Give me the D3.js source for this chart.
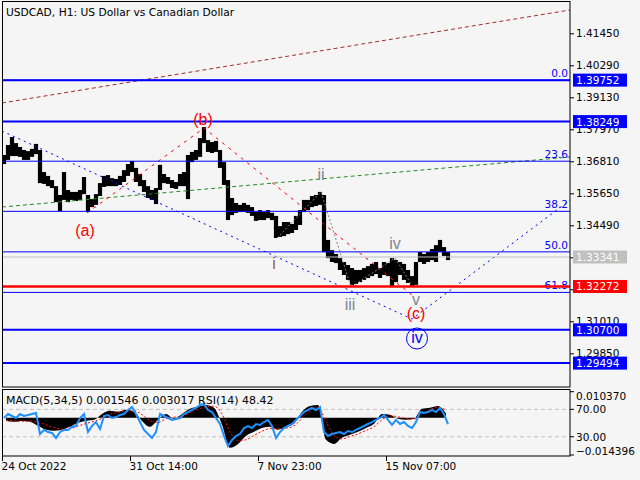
<!DOCTYPE html>
<html><head><meta charset="utf-8">
<script src="https://cdn.jsdelivr.net/npm/d3@7"></script>
<style>body{margin:0;background:#f5f5f5;} svg{display:block;}</style>
</head><body>
<svg id="c" width="640" height="480"></svg>
<script>
// ---------- DATA ----------
const titleText = "USDCAD, H1:  US Dollar vs Canadian Dollar";
const subTitle = "MACD(5,34,5) 0.001546 0.003017 RSI(14) 48.42";
const timeTickBars = [0, 128, 256, 384];
const timeLabels = ["24 Oct 2022", "31 Oct 14:00", "7 Nov 23:00", "15 Nov 07:00"];
const priceTicks = [1.41450, 1.40290, 1.39130, 1.37970, 1.36810, 1.35650, 1.34490, 1.33330, 1.32170, 1.31010, 1.29850];
// price high/low per group of 4 hourly bars
const highs = [1.3704,1.3740,1.3769,1.3747,1.3733,1.3722,1.3718,1.3726,1.3744,1.3722,
 1.3642,1.3628,1.3613,1.3591,1.3559,1.3642,1.3577,1.3570,1.3570,1.3577,
 1.3624,1.3559,1.3544,1.3562,1.3602,1.3628,1.3631,1.3620,1.3617,1.3628,
 1.3649,1.3671,1.3682,1.3657,1.3635,1.3613,1.3591,1.3577,1.3584,1.3668,
 1.3635,1.3624,1.3613,1.3606,1.3635,1.3642,1.3704,1.3715,1.3722,1.3765,
 1.3805,1.3758,1.3751,1.3755,1.3722,1.3678,1.3613,1.3548,1.3530,1.3523,
 1.3530,1.3523,1.3515,1.3497,1.3504,1.3497,1.3504,1.3494,1.3483,1.3446,
 1.3461,1.3461,1.3454,1.3483,1.3504,1.3541,1.3541,1.3555,1.3559,1.3570,
 1.3559,1.3396,1.3359,1.3345,1.3330,1.3316,1.3305,1.3294,1.3287,1.3287,
 1.3294,1.3301,1.3309,1.3316,1.3294,1.3316,1.3312,1.3330,1.3323,1.3316,
 1.3309,1.3287,1.3265,1.3316,1.3352,1.3345,1.3352,1.3363,1.3377,1.3396,
 1.3370,1.3352];
const lows = [1.3671,1.3686,1.3700,1.3700,1.3697,1.3686,1.3686,1.3697,1.3707,1.3602,
 1.3599,1.3591,1.3584,1.3533,1.3501,1.3541,1.3533,1.3541,1.3537,1.3541,
 1.3562,1.3497,1.3515,1.3523,1.3555,1.3588,1.3591,1.3591,1.3591,1.3595,
 1.3606,1.3628,1.3642,1.3606,1.3591,1.3570,1.3548,1.3541,1.3526,1.3577,
 1.3602,1.3599,1.3584,1.3581,1.3591,1.3591,1.3544,1.3678,1.3686,1.3697,
 1.3747,1.3715,1.3711,1.3715,1.3657,1.3595,1.3468,1.3486,1.3494,1.3497,
 1.3497,1.3494,1.3483,1.3465,1.3468,1.3468,1.3475,1.3468,1.3403,1.3407,
 1.3410,1.3417,1.3421,1.3432,1.3450,1.3497,1.3504,1.3515,1.3519,1.3523,
 1.3352,1.3330,1.3316,1.3312,1.3287,1.3269,1.3251,1.3233,1.3236,1.3243,
 1.3251,1.3258,1.3265,1.3272,1.3258,1.3269,1.3265,1.3225,1.3243,1.3269,
 1.3251,1.3240,1.3229,1.3233,1.3316,1.3309,1.3316,1.3323,1.3316,1.3352,
 1.3338,1.3323];
// RSI(14) per group of 4 bars
const rsi = [57.4,63.2,60.3,57.4,63.2,60.3,61.8,63.2,64.7,34.0,
 39.9,36.9,35.5,28.2,36.9,39.9,39.9,44.2,45.7,57.4,
 63.2,36.9,45.7,51.5,41.3,60.3,61.8,57.4,58.8,61.8,
 63.2,69.1,73.4,63.2,51.5,39.9,34.0,28.2,36.9,63.2,
 60.3,57.4,54.5,55.9,57.4,63.2,66.1,69.1,72.0,76.4,
 77.8,69.1,66.1,57.4,48.6,31.1,16.5,25.3,31.1,34.0,
 42.8,45.7,42.8,48.6,47.2,51.5,54.5,45.7,28.2,36.9,
 42.8,45.7,48.6,54.5,60.3,66.1,69.1,72.0,69.1,73.4,
 36.9,31.1,34.0,35.5,36.9,34.0,38.4,36.9,39.9,42.8,
 45.7,48.6,51.5,54.5,57.4,61.8,54.5,47.2,54.5,48.6,
 51.5,45.7,42.8,51.5,66.1,64.7,66.1,69.1,66.1,72.0,
 63.2,48.42];
// MACD main (histogram) and signal per group of 8 bars
const macdMain = [-0.0012,-0.0015,-0.0012,-0.0015,-0.0031,-0.0046,-0.0050,-0.0046,-0.0035,-0.0019,
 -0.0012,-0.0008,0.0015,0.0027,0.0023,0.0031,0.0023,-0.0012,-0.0035,-0.0008,
 0.0015,-0.0004,0.0015,0.0035,0.0043,0.0050,0.0039,-0.0027,-0.0116,-0.0101,
 -0.0070,-0.0054,-0.0039,-0.0035,-0.0046,-0.0035,-0.0023,0.0023,0.0046,0.0050,
 -0.0085,-0.0101,-0.0077,-0.0066,-0.0054,-0.0039,-0.0023,0.0015,0.0012,-0.0004,
 -0.0008,-0.0004,0.0035,0.0039,0.0046,0.0017];
const macdSignal = [-0.0010,-0.0012,-0.0013,-0.0013,-0.0018,-0.0027,-0.0038,-0.0044,-0.0042,-0.0032,
 -0.0022,-0.0014,-0.0002,0.0013,0.0021,0.0026,0.0027,0.0012,-0.0012,-0.0018,
 -0.0004,0.0002,0.0006,0.0020,0.0033,0.0043,0.0045,0.0015,-0.0055,-0.0088,
 -0.0085,-0.0068,-0.0052,-0.0042,-0.0042,-0.0040,-0.0031,-0.0002,0.0028,0.0043,
 -0.0015,-0.0068,-0.0082,-0.0072,-0.0062,-0.0049,-0.0034,-0.0008,0.0008,0.0004,
 -0.0003,-0.0005,0.0015,0.0032,0.0040,0.0030];
// horizontal levels
const blueLevels = [1.39752, 1.38249, 1.30700, 1.29494];
const redLevel = 1.32272;
const bidLevel = 1.33341;
const fib0 = 1.39752, fib100 = 1.27302;
const fibLevels = [0, 23.6, 38.2, 50, 61.8];
const fibLabels = ["0.0", "23.6", "38.2", "50.0", "61.8"];
// trend lines (bar index, price)
const brownBars = [0, 568], brownPrices = [1.38923, 1.42295];
const greenBars = [0, 568], greenPrices = [1.35153, 1.36966];
const blueDotBars = [0, 410, 568], blueDotPrices = [1.37908, 1.31093, 1.35407];
const redWaveBars = [85, 202, 410], redWavePrices = [1.34936, 1.38017, 1.31963];
const grayWaveBars = [275, 319, 349, 393, 411], grayWavePrices = [1.34029, 1.35697, 1.32253, 1.33304, 1.32253];
// wave labels
const waveText = ["(a)", "(b)", "(c)", "i", "ii", "iii", "iv", "v", "iv"];
const waveBars = [83, 201, 414, 272, 319, 348, 393, 414, 415];
const wavePrices = [1.34319, 1.38343, 1.31275, 1.33123, 1.36349, 1.31637, 1.33848, 1.31818, 1.30405];
const waveKind = ["major", "major", "major", "minorI", "minor", "minor", "minor", "minor", "circle"];
const macdTop = 0.010370, macdBottom = -0.014396;
const rsiLevels = [70, 30];

// ---------- DRAW ----------
const svg = d3.select("#c");
const FONT = "DejaVu Sans, sans-serif";
const AX = 10.5;
svg.append("rect").attr("width", 640).attr("height", 480).attr("fill", "#f5f5f5");

const x = d3.scaleLinear().domain([0, 568]).range([2, 570]);
const y = d3.scaleLinear().domain([1.29850, 1.41450]).range([353.3, 33.3]);
const my = d3.scaleLinear().domain([macdBottom, macdTop]).range([455, 391]);
const ry = d3.scaleLinear().domain([0, 100]).range([457.3, 388.8]);

const main = svg.append("g");
main.append("defs").append("clipPath").attr("id", "clipMain")
  .append("rect").attr("x", 2).attr("y", 2).attr("width", 568).attr("height", 385);
const plot = main.append("g").attr("clip-path", "url(#clipMain)");

// price bars
plot.selectAll("rect.bar").data(highs).enter().append("rect")
  .attr("x", (d, i) => x(i * 4) - 0.1)
  .attr("width", x(4) - x(0) + 0.2)
  .attr("y", d => y(d))
  .attr("height", (d, i) => Math.max(1, y(lows[i]) - y(d)))
  .attr("fill", "#000");

const line = d3.line();
function drawPoly(bars, prices, color, dash, w) {
  plot.append("path")
    .attr("d", line(bars.map((b, i) => [x(b), y(prices[i])])))
    .attr("fill", "none").attr("stroke", color).attr("stroke-width", w || 1)
    .attr("stroke-dasharray", dash);
}
drawPoly(brownBars, brownPrices, "#a52a2a", "4,3");
drawPoly(greenBars, greenPrices, "#228b22", "4,3");
drawPoly(blueDotBars, blueDotPrices, "#0000ff", "2,4");
drawPoly(redWaveBars, redWavePrices, "#ff0000", "3,5");
drawPoly(grayWaveBars, grayWavePrices, "#808080", "2,2");

// fib lines
fibLevels.forEach((lv, i) => {
  const p = fib0 - lv / 100 * (fib0 - fib100);
  plot.append("line").attr("x1", 2).attr("x2", 570).attr("y1", y(p)).attr("y2", y(p))
    .attr("stroke", "#0000ff").attr("stroke-width", 1);
  plot.append("text").attr("x", 568).attr("y", y(p) - 3).attr("text-anchor", "end")
    .attr("font-family", FONT).attr("font-size", AX).attr("fill", "#0000ff").text(fibLabels[i]);
});
// bid line
plot.append("line").attr("x1", 2).attr("x2", 570).attr("y1", y(bidLevel)).attr("y2", y(bidLevel))
  .attr("stroke", "#c0c0c0").attr("stroke-width", 1);
// blue levels
blueLevels.forEach(p => {
  plot.append("line").attr("x1", 2).attr("x2", 570).attr("y1", y(p)).attr("y2", y(p))
    .attr("stroke", "#0000ff").attr("stroke-width", 2);
});
plot.append("line").attr("x1", 2).attr("x2", 570).attr("y1", y(redLevel)).attr("y2", y(redLevel))
  .attr("stroke", "#ff0000").attr("stroke-width", 2.5);

// wave labels
waveText.forEach((t, i) => {
  const cx = x(waveBars[i]), cy = y(wavePrices[i]);
  const col = waveKind[i] === "major" ? "#ff0000" : waveKind[i] === "circle" ? "#0000ff" :
              waveKind[i] === "minorI" ? "#a05a50" : "#7f8590";
  plot.append("text").attr("x", cx).attr("y", cy).attr("text-anchor", "middle")
    .attr("dominant-baseline", "central")
    .attr("font-family", "Liberation Sans, Arial, sans-serif").attr("font-size", 16)
    .attr("fill", col).text(t);
  if (waveKind[i] === "circle") {
    plot.append("circle").attr("cx", cx).attr("cy", cy + 0.5).attr("r", 10.5)
      .attr("fill", "none").attr("stroke", "#0000ff").attr("stroke-width", 1);
  }
});

// title
svg.append("text").attr("x", 6).attr("y", 15.5).attr("font-family", FONT).attr("font-size", 10.7)
  .attr("fill", "#000").text(titleText);

// frames
svg.append("rect").attr("x", 2.5).attr("y", 1.5).attr("width", 567.5).attr("height", 385.5)
  .attr("fill", "none").attr("stroke", "#000");

// right price axis (the 1.33330 label is hidden behind the bid box)
const axR = d3.axisRight(y).tickValues(priceTicks).tickSize(4).tickPadding(2)
  .tickFormat(d3.format(".5f"));
const gAx = svg.append("g").attr("transform", "translate(570,0)").call(axR);
gAx.select(".domain").remove();
gAx.selectAll("text").attr("font-family", FONT).attr("font-size", AX).attr("fill", "#000");
gAx.selectAll(".tick").filter(d => Math.abs(d - bidLevel) < 0.0005).select("text").remove();

// value boxes
function box(p, color, txtColor) {
  const cy = y(p);
  svg.append("rect").attr("x", 573).attr("y", cy - 6.5).attr("width", 54).attr("height", 13).attr("fill", color);
  svg.append("text").attr("x", 576).attr("y", cy).attr("dominant-baseline", "central")
    .attr("font-family", FONT).attr("font-size", AX).attr("fill", txtColor).text(d3.format(".5f")(p));
}
blueLevels.forEach(p => box(p, "#0000ff", "#fff"));
box(bidLevel, "#c0c0c0", "#fff");
box(redLevel, "#ff0000", "#fff");

// ---------- MACD / RSI panel ----------
svg.append("defs").append("clipPath").attr("id", "clipSub")
  .append("rect").attr("x", 2).attr("y", 389).attr("width", 568).attr("height", 67);
const sub = svg.append("g").attr("clip-path", "url(#clipSub)");
rsiLevels.forEach(v => {
  sub.append("line").attr("x1", 2).attr("x2", 570).attr("y1", ry(v)).attr("y2", ry(v))
    .attr("stroke", "#c0c0c0").attr("stroke-dasharray", "4,3");
});
const histArea = d3.area().x((d, i) => x(i * 8 + 4)).y0(my(0)).y1(d => my(d)).curve(d3.curveMonotoneX);
sub.append("path").attr("d", histArea(macdMain)).attr("fill", "#000");
const sigLine = d3.line().x((d, i) => x(i * 8 + 4)).y(d => my(d)).curve(d3.curveMonotoneX);
sub.append("path").attr("d", sigLine(macdSignal)).attr("fill", "none")
  .attr("stroke", "#ff0000").attr("stroke-width", 1).attr("stroke-dasharray", "2,2");
const rsiLine = d3.line().x((d, i) => x(i * 4 + 2)).y(d => ry(d));
sub.append("path").attr("d", rsiLine(rsi)).attr("fill", "none")
  .attr("stroke", "#1e90ff").attr("stroke-width", 2);
svg.append("text").attr("x", 6).attr("y", 404).attr("font-family", FONT).attr("font-size", 11)
  .attr("fill", "#000").text(subTitle);
svg.append("rect").attr("x", 2.5).attr("y", 389.5).attr("width", 567.5).attr("height", 66.5)
  .attr("fill", "none").attr("stroke", "#000");

// sub axis labels
const subTicks = [
  {yy: my(macdTop) + 0.7, ty: 396, t: d3.format(".6f")(macdTop)},
  {yy: ry(70), ty: ry(70), t: d3.format(".2f")(70)},
  {yy: ry(30), ty: ry(30), t: d3.format(".2f")(30)},
  {yy: my(macdBottom), ty: 450.5, t: d3.format(".6f")(macdBottom)}
];
subTicks.forEach(s => {
  svg.append("line").attr("x1", 570).attr("x2", 574).attr("y1", s.yy).attr("y2", s.yy).attr("stroke", "#000");
  svg.append("text").attr("x", 576).attr("y", s.ty).attr("dominant-baseline", "central")
    .attr("font-family", FONT).attr("font-size", AX).attr("fill", "#000").text(s.t);
});

// bottom time axis
const axB = d3.axisBottom(x).tickValues(timeTickBars).tickSize(5).tickPadding(2)
  .tickFormat((d, i) => timeLabels[i]);
const gB = svg.append("g").attr("transform", "translate(0,456)").call(axB);
gB.select(".domain").remove();
gB.selectAll("text").attr("text-anchor", "start").attr("dx", -1)
  .attr("font-family", FONT).attr("font-size", AX).attr("fill", "#000");
</script>
</body></html>
